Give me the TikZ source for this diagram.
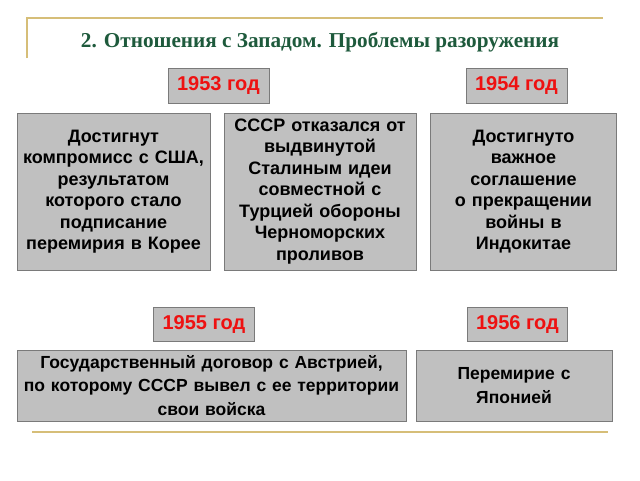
\documentclass[tikz,border=0pt]{standalone}
\usepackage{fontspec}
\setmainfont{Liberation Serif}
\setsansfont{Liberation Sans}
\definecolor{gold}{HTML}{D6BE78}
\definecolor{titlegreen}{HTML}{1E5A3C}
\definecolor{boxfill}{HTML}{C0C0C0}
\definecolor{boxline}{HTML}{7A7A7A}
\definecolor{yearred}{HTML}{EE1111}
\begin{document}
\begin{tikzpicture}[x=1pt,y=-1pt,
  box/.style={draw=boxline,line width=1pt,fill=boxfill,inner sep=0pt,align=center,
    font=\sffamily\bfseries\fontsize{18}{21.5}\selectfont},
  yearbox/.style={draw=boxline,line width=1pt,fill=boxfill,inner sep=0pt,
    minimum width=101pt,minimum height=35pt,text=yearred,
    font=\sffamily\bfseries\fontsize{20}{22}\selectfont},
  goldline/.style={draw=gold,line width=1.6pt}]
\useasboundingbox (0,0) rectangle (640,480);
\fill[white] (0,0) rectangle (640,480);
% frame lines
\coordinate (tl) at (27,18);
\coordinate (tr) at (603,18);
\coordinate (lb) at (27,58);
\coordinate (bl) at (32,432);
\coordinate (br) at (608,432);
\draw[goldline] (lb) -- (tl) -- (tr);
\draw[goldline] (bl) -- (br);
% title
\node[text=titlegreen,font=\bfseries\fontsize{21.2}{23}\selectfont] (title) at (320,42) {2. Отношения с Западом. Проблемы разоружения};
% years
\node[yearbox] (y53) at (218.5,86) {1953 год};
\node[yearbox] (y54) at (516.5,86) {1954 год};
\node[yearbox,minimum height=34pt] (y55) at (204,324.5) {1955 год};
\node[yearbox,minimum width=100pt,minimum height=34pt] (y56) at (517.5,324.5) {1956 год};
% row 1
\node[box,minimum width=193pt,minimum height=157pt,text width=190pt] (b1) at (113.5,191.5)
  {Достигнут\\компромисс с США,\\результатом\\которого стало\\подписание\\перемирия в Корее};
\node[box,minimum width=192pt,minimum height=157pt,text width=190pt] (b2) at (320,191.5)
  {СССР отказался от\\выдвинутой\\Сталиным идеи\\совместной с\\Турцией обороны\\Черноморских\\проливов};
\node[box,minimum width=186pt,minimum height=157pt,text width=184pt] (b3) at (523.5,191.5)
  {Достигнуто\\важное\\соглашение\\о прекращении\\войны в\\Индокитае};
% row 2
\node[box,minimum width=389pt,minimum height=71pt,text width=386pt,
  font=\sffamily\bfseries\fontsize{17.5}{23.5}\selectfont] (b4) at (211.5,385.5)
  {Государственный договор с Австрией,\\по которому СССР вывел с ее территории\\свои войска};
\node[box,minimum width=196pt,minimum height=71pt,text width=194pt,
  font=\sffamily\bfseries\fontsize{17.5}{23.5}\selectfont] (b5) at (514,385.5)
  {Перемирие с\\Японией};
\end{tikzpicture}
\end{document}
